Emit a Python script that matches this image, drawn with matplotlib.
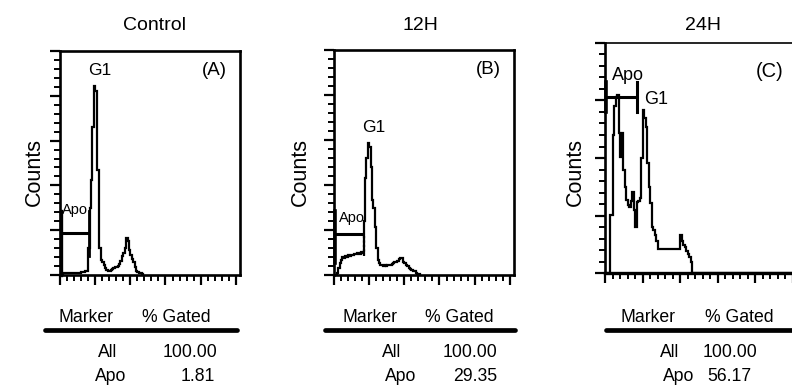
import numpy as np
import matplotlib
matplotlib.use('Agg')
import matplotlib.pyplot as plt
from matplotlib.ticker import MultipleLocator, NullFormatter

plt.rcParams['font.family'] = ['Liberation Sans', 'DejaVu Sans']

# ---------------- data ----------------
BIN = 8  # channel width of each histogram bin (0..1023 channels)

titles = ["Control", "12H", "24H"]
panel_tags = ["(A)", "(B)", "(C)"]

counts_control = [0, 0, 4, 5, 5, 5, 4, 5, 5, 5, 5, 4, 5, 5, 5, 6, 7, 7, 8, 8,
                  60, 150, 212,
                  330, 422, 410,
                  234, 234, 60,
                  33, 28, 22, 16, 11, 9, 9, 11, 13, 15, 17, 18, 20, 25, 32, 42,
                  50, 60, 83, 75, 55, 45, 35, 28, 18, 10, 7, 5, 4, 2]

counts_12h = [0, 0, 4, 15, 27, 33, 40, 38, 42, 40, 44, 43, 45, 44, 47, 46, 48, 50, 47, 52, 50,
              120, 216, 260, 293, 285, 240, 167, 150, 107, 60, 33, 27, 22, 22, 20, 22, 21,
              22, 22, 23, 24, 26, 28, 30, 32, 36, 38, 37, 30, 26, 22, 20, 16, 13, 12, 10,
              8, 5, 3, 2]

counts_24h = [0, 0, 0, 101, 101, 240, 290, 306, 310, 243, 202, 243, 179, 150, 127, 118,
              115, 125, 141, 110, 80, 123, 125, 130, 200, 283, 270, 254, 191, 150, 122,
              80, 75, 66, 55, 42,
              42, 42, 42, 42, 42, 42, 42, 42, 42, 42, 42, 42, 42, 42,
              66, 55, 48, 45, 38, 33, 28, 20]

ymax_list = [500, 500, 400]

# Apo marker: start channel, end channel, level (counts)
marker_start = [0, 0, 0]
marker_end = [165, 171, 171]
marker_level = [94, 91, 306]

table_markers = ["All", "Apo"]
gated_control = ["100.00", "1.81"]
gated_12h = ["100.00", "29.35"]
gated_24h = ["100.00", "56.17"]

# ---------------- layout ----------------
W, H = 792, 387
fig = plt.figure(figsize=(W / 100, H / 100), dpi=100)

def frame(l, t, r, b):
    return [l / W, 1 - b / H, (r - l) / W, (b - t) / H]

def ftext(x, y, s, **kw):
    fig.text(x / W, 1 - y / H, s, **kw)

axes_px = [(60, 51, 240, 275), (334, 50, 514, 275), (605, 43, 797, 273)]
all_counts = [counts_control, counts_12h, counts_24h]
all_gated = [gated_control, gated_12h, gated_24h]

title_x = [154, 420, 703]
counts_x = [34, 300, 575]

for i in range(3):
    l, t, r, b = axes_px[i]
    ax = fig.add_axes(frame(l, t, r, b))
    c = np.array(all_counts[i], dtype=float)
    if i == 2:
        c = np.concatenate([c, np.zeros(128 - len(c))])
    edges = np.arange(len(c) + 1) * BIN
    ax.stairs(c, edges, baseline=0, color='black', lw=1.6)

    ax.set_xlim(0, 1024)
    ax.set_ylim(0, ymax_list[i])
    ax.xaxis.set_major_locator(MultipleLocator(200))
    ax.xaxis.set_minor_locator(MultipleLocator(40))
    ax.yaxis.set_major_locator(MultipleLocator(100))
    ax.yaxis.set_minor_locator(MultipleLocator(20))
    ax.xaxis.set_major_formatter(NullFormatter())
    ax.yaxis.set_major_formatter(NullFormatter())
    ax.tick_params(which='major', direction='out', length=7, width=1.6)
    ax.tick_params(which='minor', direction='out', length=4, width=1.4)
    for s in ax.spines.values():
        s.set_linewidth(1.9)
    if i == 2:
        ax.spines['top'].set_linestyle((0, (1, 1)))
        ax.spines['top'].set_linewidth(1.2)
        ax.spines['bottom'].set_linewidth(2.4)

    # Apo marker
    m0, m1, my = marker_start[i], marker_end[i], marker_level[i]
    ax.plot([m0, m1], [my, my], color='black', lw=2.2, solid_capstyle='butt', clip_on=False)
    half = 0.065 * ymax_list[i]
    if i == 0:
        ax.plot([m0 + 4, m0 + 4], [0, my + 1.5 * half], color='black', lw=2.4, clip_on=False)
        ax.plot([m1, m1], [my - 1.6 * half, my + 1.5 * half], color='black', lw=2.0)
        ax.text(88, 145, "Apo", ha='center', va='center', fontsize=10.5)
        ax.text(228, 457, "G1", ha='center', va='center', fontsize=12.5)
    elif i == 1:
        ax.plot([m0 + 4, m0 + 4], [my - 2 * half, my + 1.6 * half], color='black', lw=2.6, clip_on=False)
        ax.plot([m1, m1], [my - 1.5 * half, my], color='black', lw=1.6, ls=(0, (1, 1)))
        ax.text(100, 127, "Apo", ha='center', va='center', fontsize=10.5)
        ax.text(228, 327, "G1", ha='center', va='center', fontsize=12.5)
    else:
        ax.plot([m0 + 4, m0 + 4], [my - half, my + half], color='black', lw=2.6, clip_on=False)
        ax.plot([m1, m1], [my - half, my + half], color='black', lw=2.2)
        ax.text(125, 344, "Apo", ha='center', va='center', fontsize=13)
        ax.text(210, 301, "G1", ha='left', va='center', fontsize=13)

    ax.text(0.86, 0.915 if i < 2 else 0.875, panel_tags[i],
            transform=ax.transAxes, ha='center', va='center',
            fontsize=13.5 if i < 2 else 14.5)

    ftext(title_x[i], 25, titles[i], ha='center', va='center', fontsize=14)
    ftext(counts_x[i], 172, "Counts", ha='center', va='center', rotation=90, fontsize=15.5)

# ---------------- tables ----------------
marker_left = [58, 342, 620]
gated_left = [142, 425, 705]
line_span = [(45, 237), (325, 515), (606, 800)]
all_left = [98, 382, 660]
apo_left = [95, 385, 663]
val_right = [(217, 215), (497, 497), (757, 751)]

for i in range(3):
    ftext(marker_left[i], 322, "Marker", ha='left', va='baseline', fontsize=12.7)
    ftext(gated_left[i], 322, "% Gated", ha='left', va='baseline', fontsize=12.7)
    x0, x1 = line_span[i]
    fig.add_artist(plt.Line2D([x0 / W, x1 / W], [1 - 330 / H, 1 - 330 / H],
                              color='black', lw=3.4, solid_capstyle='round'))
    ftext(all_left[i], 357, table_markers[0], ha='left', va='baseline', fontsize=12.7)
    ftext(apo_left[i], 381, table_markers[1], ha='left', va='baseline', fontsize=12.7)
    ftext(val_right[i][0], 357, all_gated[i][0], ha='right', va='baseline', fontsize=12.7)
    ftext(val_right[i][1], 381, all_gated[i][1], ha='right', va='baseline', fontsize=12.7)

fig.savefig("out.png", dpi=100)
